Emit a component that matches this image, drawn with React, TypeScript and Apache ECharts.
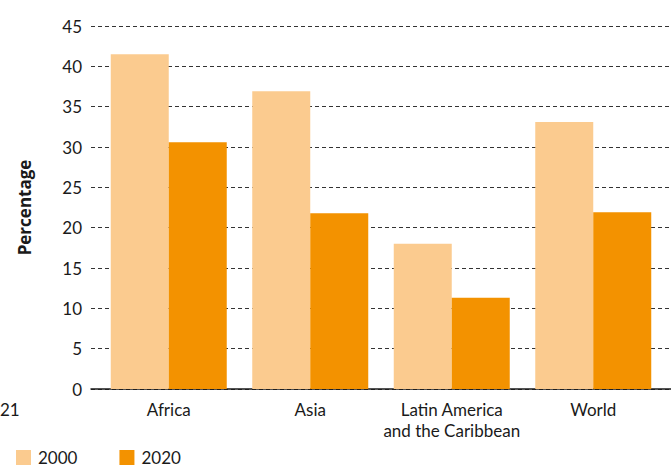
import React, { useEffect, useRef } from "react";
import * as echarts from "echarts";

const categories = ["Africa", "Asia", "Latin America\nand the Caribbean", "World"];
const seriesNames = ["2000", "2020"];
const values2000 = [41.5, 36.9, 18.0, 33.1];
const values2020 = [30.6, 21.8, 11.3, 21.9];
const yTicks = { min: 0, max: 45, interval: 5 };

const FONT = "Lato, 'Noto Sans', sans-serif";
const TEXT = "#1a1a1a";

export default function App() {
  const ref = useRef<HTMLDivElement>(null);
  useEffect(() => {
    if (!ref.current) return;
    const chart = echarts.init(ref.current, null, { renderer: "svg" });
    const option = {
      animation: false,
      textStyle: { fontFamily: FONT, color: TEXT },
      grid: [
        { left: 91, right: 0, top: 26, bottom: 80 },
        { left: 98, right: 7, top: 26, bottom: 80 },
      ],
      legend: {
        left: 16,
        top: 449,
        padding: 0,
        itemWidth: 15,
        itemHeight: 15,
        itemGap: 42,
        icon: "rect",
        textStyle: { fontFamily: FONT, fontSize: 17, lineHeight: 17, color: TEXT, padding: [0, 0, 0, 2] },
        data: seriesNames,
      },
      xAxis: [
        {
          type: "category",
          gridIndex: 0,
          data: categories,
          axisLine: { show: true, lineStyle: { color: "#1a1a1a", width: 1.5 } },
          axisTick: { show: false },
          axisLabel: { show: false },
          splitLine: { show: false },
        },
        {
          type: "category",
          gridIndex: 1,
          data: categories,
          axisLine: { show: false },
          axisTick: { show: false },
          axisLabel: {
            fontFamily: FONT,
            fontSize: 17,
            color: TEXT,
            margin: 10,
            lineHeight: 21,
            interval: 0,
          },
        },
      ],
      yAxis: [
        {
          type: "value",
          gridIndex: 0,
          min: yTicks.min,
          max: yTicks.max,
          interval: yTicks.interval,
          name: "Percentage",
          nameLocation: "middle",
          nameRotate: 90,
          nameGap: 58,
          nameTextStyle: { fontFamily: "'Open Sans', sans-serif", fontSize: 17, fontWeight: "bold", color: TEXT },
          axisLine: { show: false },
          axisTick: { show: false },
          axisLabel: { fontFamily: FONT, fontSize: 17, color: TEXT, margin: 9 },
          splitLine: {
            show: true,
            lineStyle: { color: "#333333", type: [4, 3], width: 1 },
          },
        },
        {
          type: "value",
          gridIndex: 1,
          min: yTicks.min,
          max: yTicks.max,
          interval: yTicks.interval,
          show: false,
          splitLine: { show: false },
        },
      ],
      graphic: [
        {
          type: "text",
          left: 0,
          top: 401,
          style: { text: "21", fontFamily: FONT, fontSize: 17, fill: TEXT },
        },
      ],
      series: [
        {
          name: seriesNames[0],
          type: "bar",
          xAxisIndex: 1,
          yAxisIndex: 1,
          data: values2000,
          barWidth: 58,
          barGap: "0%",
          itemStyle: { color: "#FBCB8F" },
          z: 3,
        },
        {
          name: seriesNames[1],
          type: "bar",
          xAxisIndex: 1,
          yAxisIndex: 1,
          data: values2020,
          barWidth: 58,
          barGap: "0%",
          itemStyle: { color: "#F39200" },
          z: 3,
        },
      ],
    };
    chart.setOption(option);
    return () => chart.dispose();
  }, []);
  return (
    <div
      ref={ref}
      style={{ position: "fixed", left: 0, top: 0, width: 671, height: 469, background: "#fff" }}
    />
  );
}
